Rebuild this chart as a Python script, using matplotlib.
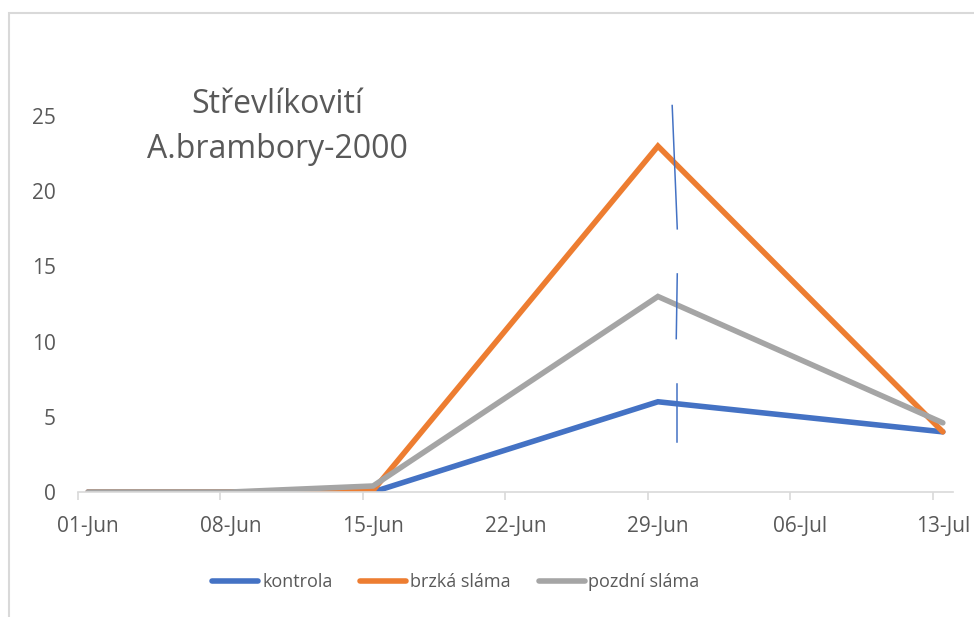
import matplotlib
matplotlib.use("Agg")
import matplotlib.pyplot as plt
import matplotlib.dates as mdates
from matplotlib.patches import Rectangle
import numpy as np

# data
dates = ["2000-06-01", "2000-06-08", "2000-06-15", "2000-06-29", "2000-07-13"]
kontrola = [0, 0, 0, 6, 4]
brzka = [0, 0, 0.1, 23, 4]
pozdni = [0, 0, 0.4, 13, 4.6]

tick_dates = ["2000-06-01", "2000-06-08", "2000-06-15", "2000-06-22",
              "2000-06-29", "2000-07-06", "2000-07-13"]
yticks = [0, 5, 10, 15, 20, 25]

# hand drawn marker strokes near 29-Jun (day offset, y)
strokes = [((28.7, 25.7), (28.95, 17.5)),
           ((28.95, 14.5), (28.9, 10.2)),
           ((28.95, 7.2), (28.95, 3.3))]

txt = "#595959"
plt.rcParams["font.family"] = ["Open Sans", "DejaVu Sans"]

x = mdates.date2num(np.array(dates, dtype="datetime64[D]"))
xt = mdates.date2num(np.array(tick_dates, dtype="datetime64[D]"))

fig = plt.figure(figsize=(9.74, 6.17), dpi=100)
ax = fig.add_axes([78/974, 1 - 492/617, (953-78)/974, (492-101)/617])

ax.plot(x, kontrola, color="#4472C4", lw=4, solid_capstyle="round", solid_joinstyle="miter", label="kontrola")
ax.plot(x, brzka, color="#ED7D31", lw=4, solid_capstyle="round", solid_joinstyle="miter", label="brzká sláma")
ax.plot(x, pozdni, color="#A5A5A5", lw=4, solid_capstyle="round", solid_joinstyle="miter", label="pozdní sláma")

for (d0, y0), (d1, y1) in strokes:
    ax.plot([x[0] + d0, x[0] + d1], [y0, y1], color="#4472C4", lw=1.1, clip_on=False)

ax.set_xlim(x[0] - 0.5, x[-1] + 0.5)
ax.set_ylim(0, 26)

# ticks between days, labels on the days
ax.set_xticks(xt - 0.5)
ax.set_xticklabels([])
ax.set_xticks(xt, minor=True)
ax.set_xticklabels([np.datetime64(d, "D").astype(object).strftime("%d-%b") for d in tick_dates],
                   minor=True)
ax.tick_params(axis="x", which="major", length=6, width=1.2, color="#D9D9D9", direction="out")
ax.tick_params(axis="x", which="minor", length=0, pad=17, labelsize=15, labelcolor=txt)

ax.set_yticks(yticks)
ax.tick_params(axis="y", length=0, pad=16, labelsize=15, labelcolor=txt)

for s in ["top", "right", "left"]:
    ax.spines[s].set_visible(False)
ax.spines["bottom"].set_color("#D9D9D9")
ax.spines["bottom"].set_linewidth(1.2)

fig.text(277/974, 1 - 127/617, "Střevlíkovití\nA.brambory-2000", ha="center", va="center",
         fontsize=23, color=txt, linespacing=1.45)

fig.legend(loc="center", bbox_to_anchor=(456/974, 1 - 582/617), ncol=3, frameon=False,
           fontsize=13, labelcolor=txt, handlelength=2.55, handletextpad=0.2, columnspacing=1.55)

fig.add_artist(Rectangle((8.5/974, -0.1), 2, (617-12.5)/617 + 0.1, transform=fig.transFigure,
                         fill=False, ec="#D9D9D9", lw=1.5))

fig.savefig("out.png", dpi=100, facecolor="white")
